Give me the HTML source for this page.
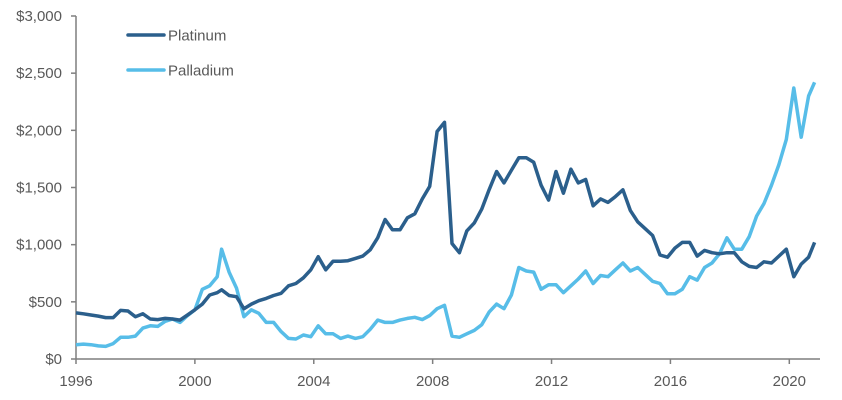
<!DOCTYPE html>
<html><head><meta charset="utf-8"><style>
body{margin:0;background:#fff;}
svg{display:block;font-family:"Liberation Sans",Arial,sans-serif;}
</style></head><body>
<svg id="chart" width="842" height="400">
<g id="axes"></g><g id="lines"></g>
<g>
<g><line x1="128" y1="35" x2="164" y2="35" stroke="#2b5f8c" stroke-width="3.5" stroke-linecap="round"/><text x="168" y="40.5" font-size="15" fill="#595959">Platinum</text></g>
<g><line x1="128" y1="70" x2="164" y2="70" stroke="#57bde8" stroke-width="3.5" stroke-linecap="round"/><text x="168" y="75.5" font-size="15" fill="#595959">Palladium</text></g>
</g>
</svg>
<script>
const dates=[1996,1996.25,1996.5,1996.75,1997,1997.25,1997.5,1997.75,1998,1998.25,1998.5,1998.75,1999,1999.25,1999.5,1999.75,2000,2000.25,2000.5,2000.75,
2000.9,
2001.15,2001.4,2001.65,2001.9,2002.15,2002.4,2002.65,2002.9,2003.15,2003.4,2003.65,2003.9,2004.15,2004.4,2004.65,2004.9,
2005.15,2005.4,2005.65,2005.9,2006.15,2006.4,2006.65,2006.9,2007.15,2007.4,2007.65,2007.9,2008.15,2008.4,2008.65,2008.9,
2009.15,2009.4,2009.65,2009.9,2010.15,2010.4,2010.65,2010.9,2011.15,2011.4,2011.65,2011.9,2012.15,2012.4,2012.65,2012.9,
2013.15,2013.4,2013.65,2013.9,2014.15,2014.4,2014.65,2014.9,2015.15,2015.4,2015.65,2015.9,2016.15,2016.4,2016.65,2016.9,
2017.15,2017.4,2017.65,2017.9,2018.15,2018.4,2018.65,2018.9,2019.15,2019.4,2019.65,2019.9,2020.15,2020.4,2020.65,2020.85];
const platinum=[403,395,385,375,362,362,425,420,370,395,350,345,355,350,340,385,430,480,560,580,
605,
555,545,440,480,510,530,555,575,640,660,710,780,895,780,855,855,
860,880,900,955,1060,1220,1130,1130,1235,1270,1400,1510,1990,2070,1010,930,
1120,1190,1310,1480,1640,1540,1650,1760,1760,1720,1520,1390,1640,1450,1660,1540,
1570,1340,1400,1370,1420,1480,1300,1200,1140,1080,910,890,970,1020,1020,900,
950,930,920,930,930,850,810,800,850,840,900,960,720,830,890,1020];
const palladium=[125,130,125,115,110,135,190,190,200,270,290,285,330,350,320,380,430,610,640,720,
960,
760,620,370,430,400,320,320,240,180,175,210,195,290,220,220,180,
200,180,195,260,340,320,320,340,355,365,345,380,440,470,200,190,
220,250,300,410,480,440,560,800,770,760,610,650,650,580,640,700,
770,660,730,720,780,840,770,800,740,680,660,570,570,610,720,690,
800,840,920,1060,960,960,1070,1250,1360,1520,1700,1920,2370,1940,2300,2420];
const yTicks=[0,500,1000,1500,2000,2500,3000];
const yTickLabels=["$0","$500","$1,000","$1,500","$2,000","$2,500","$3,000"];
const xTicks=[1996,2000,2004,2008,2012,2016,2020];

const X0=76,X1=822,XMIN=1996,XMAX=2021.1,Y0=359,Y1=16,YMAX=3000;
const sx=d=>X0+(d-XMIN)/(XMAX-XMIN)*(X1-X0);
const sy=v=>Y0-v/YMAX*(Y0-Y1);
const NS="http://www.w3.org/2000/svg";
const axes=document.getElementById('axes'),lines=document.getElementById('lines');
function mk(tag,attrs,parent){const e=document.createElementNS(NS,tag);for(const k in attrs)e.setAttribute(k,attrs[k]);parent.appendChild(e);return e;}
const ya=mk('line',{x1:X0,y1:Y1,x2:X0,y2:Y0,stroke:'#7f7f7f','stroke-width':1.5},axes);


const xa=mk('line',{x1:X0,y1:Y0,x2:X1-2,y2:Y0,stroke:'#7f7f7f','stroke-width':1.5},axes);


yTicks.forEach((v,i)=>{
  const t=mk('line',{x1:X0-5,y1:sy(v),x2:X0,y2:sy(v),stroke:'#7f7f7f','stroke-width':1.5},axes);
  
  
  const l=mk('text',{x:62,y:sy(v)+5,'text-anchor':'end','font-size':15,fill:'#595959'},axes);
  l.textContent=yTickLabels[i];
  
  
});
xTicks.forEach(v=>{
  const t=mk('line',{x1:sx(v),y1:Y0,x2:sx(v),y2:Y0+5,stroke:'#7f7f7f','stroke-width':1.5},axes);
  
  
  const l=mk('text',{x:sx(v),y:386,'text-anchor':'middle','font-size':15,fill:'#595959'},axes);
  l.textContent=v;
  
  
});
function series(vals,color,name){
  const d=vals.map((v,i)=>(i?'L':'M')+sx(dates[i]).toFixed(1)+','+sy(v).toFixed(1)).join('');
  const p=mk('path',{d:d,fill:'none',stroke:color,'stroke-width':3.5,'stroke-linejoin':'round'},lines);
  
  
}
series(palladium,'#57bde8','palladium-line');
series(platinum,'#2b5f8c','platinum-line');
</script>
</body></html>
